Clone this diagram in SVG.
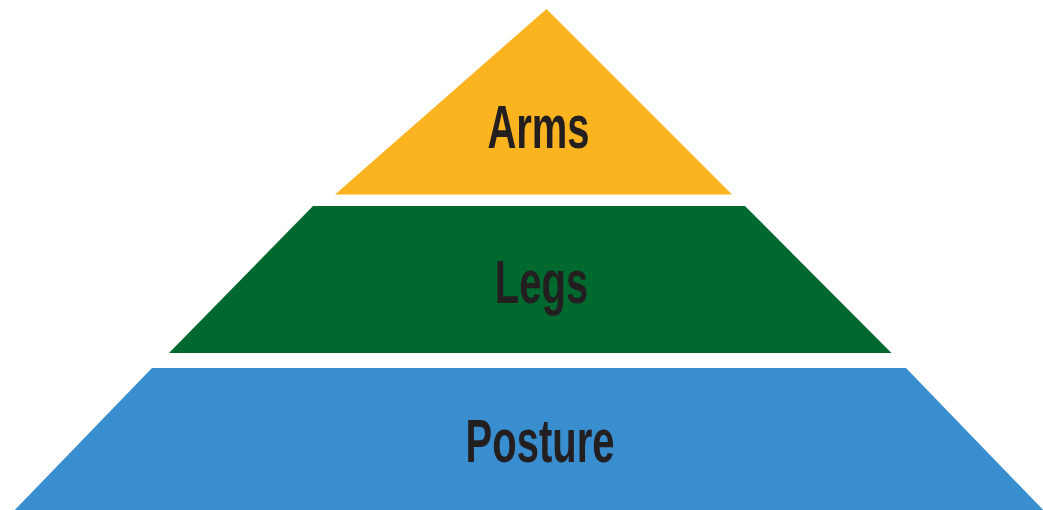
<svg xmlns="http://www.w3.org/2000/svg" width="1043" height="510" viewBox="0 0 1043 510">
<style>
.lbl{font-family:"Liberation Sans","Arial",sans-serif;font-weight:bold;font-size:62px;fill:#231f20;text-anchor:middle}
</style>
<rect width="1043" height="510" fill="#ffffff"/>
<g id="arms">
<polygon points="546.5,9 732,194.5 335,194.5" fill="#fbb41f"/>
<text class="lbl" transform="translate(538.5,148) scale(0.645,1)">Arms</text>
</g>
<g id="legs">
<polygon points="313,206 745,206 891.5,353 169,353" fill="#00692e"/>
<text class="lbl" transform="translate(541.5,303) scale(0.645,1)">Legs</text>
</g>
<g id="posture">
<polygon points="152,368 906,368 1050,517 8,517" fill="#388ece"/>
<text class="lbl" transform="translate(540,462) scale(0.645,1)">Posture</text>
</g>
<g id="connectors"></g>
</svg>
